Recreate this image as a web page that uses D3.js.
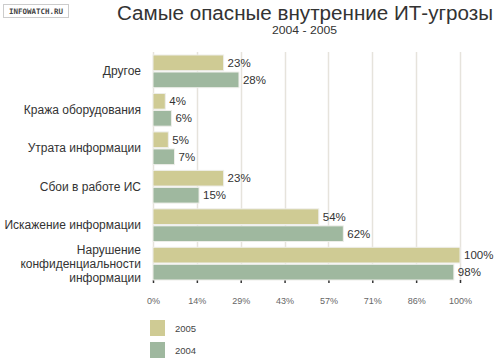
<!DOCTYPE html>
<html>
<head>
<meta charset="utf-8">
<script src="https://cdn.jsdelivr.net/npm/d3@7"></script>
<style>
  body { margin: 0; background: #fff; }
  text { font-family: "Liberation Sans", Arial, sans-serif; }
</style>
</head>
<body>
<script>
// Data
var categories = ["Другое", "Кража оборудования", "Утрата информации", "Сбои в работе ИС",
                  "Искажение информации", "Нарушение\nконфиденциальности\nинформации"];
var series = ["2005", "2004"];
var values2005 = [23, 4, 5, 23, 54, 100];
var values2004 = [28, 6, 7, 15, 62, 98];
var tickValues = [0, 100/7, 200/7, 300/7, 400/7, 500/7, 600/7, 100];
var colors = ["#cfcb94", "#9fb89f"];

var svg = d3.select("body")
  .append("svg")
  .attr("width", 500)
  .attr("height", 361);

// logo box
svg.append("rect")
  .attr("x", 3.5).attr("y", 4.5)
  .attr("width", 65).attr("height", 13)
  .attr("fill", "#fff").attr("stroke", "#ccc");
svg.append("text")
  .attr("x", 36).attr("y", 14)
  .attr("text-anchor", "middle")
  .attr("font-size", 7.5).attr("font-weight", "bold")
  .style("font-family", "'DejaVu Sans Mono', monospace")
  .attr("fill", "#444")
  .text("INFOWATCH.RU");

// title
svg.append("text")
  .attr("x", 117).attr("y", 20)
  .attr("font-size", 20)
  .attr("textLength", 376).attr("lengthAdjust", "spacingAndGlyphs")
  .attr("fill", "#333")
  .text("Самые опасные внутренние ИТ-угрозы");
svg.append("text")
  .attr("x", 272).attr("y", 34)
  .attr("font-size", 10)
  .attr("textLength", 65).attr("lengthAdjust", "spacingAndGlyphs")
  .attr("fill", "#333")
  .text("2004 - 2005");

var x = d3.scaleLinear().domain([0, 100]).range([153, 460]);
var y = d3.scaleBand().domain(categories).range([55, 280]).paddingInner(0.15);
var ySub = d3.scaleBand().domain(series).range([0, y.bandwidth()]).paddingInner(0.08);

// gridlines
svg.selectAll("line.grid")
  .data(tickValues)
  .enter().append("line")
  .attr("class", "grid")
  .attr("x1", function(d){ return Math.round(x(d)) + 0.5; })
  .attr("x2", function(d){ return Math.round(x(d)) + 0.5; })
  .attr("y1", 52).attr("y2", 281)
  .attr("stroke", "#e6e3dc").attr("stroke-width", 1.5);

// tick dots + labels
var xAxis = svg.append("g").attr("transform", "translate(0,280)")
  .call(d3.axisBottom(x).tickValues(tickValues).tickSize(3)
    .tickFormat(function(d){ return Math.round(d) + "%"; }));
xAxis.select(".domain").remove();
xAxis.selectAll(".tick line").attr("stroke", "#333").attr("stroke-width", 1.5);
xAxis.selectAll(".tick text")
  .attr("y", 18)
  .attr("font-size", 9)
  .attr("fill", "#666")
  .style("font-family", "'Liberation Sans', Arial, sans-serif");

var rows = categories.map(function(c, i){
  return { cat: c, vals: [values2005[i], values2004[i]] };
});

var groups = svg.selectAll("g.row")
  .data(rows)
  .enter().append("g")
  .attr("class", "row")
  .attr("transform", function(d){ return "translate(0," + y(d.cat) + ")"; });

groups.selectAll("rect")
  .data(function(d){ return d.vals.map(function(v, j){ return { s: series[j], v: v, j: j }; }); })
  .enter().append("rect")
  .attr("x", x(0))
  .attr("y", function(d){ return ySub(d.s); })
  .attr("width", function(d){ return x(d.v) - x(0); })
  .attr("height", ySub.bandwidth())
  .attr("fill", function(d){ return colors[d.j]; })
  .attr("stroke", "#eeeeea").attr("stroke-width", 1);

groups.selectAll("text.val")
  .data(function(d){ return d.vals.map(function(v, j){ return { s: series[j], v: v }; }); })
  .enter().append("text")
  .attr("class", "val")
  .attr("x", function(d){ return x(d.v) + 4; })
  .attr("y", function(d){ return ySub(d.s) + ySub.bandwidth() / 2 + 4; })
  .attr("font-size", 11.5)
  .attr("fill", "#333")
  .text(function(d){ return d.v + "%"; });

// category labels
groups.append("text")
  .attr("text-anchor", "end")
  .attr("font-size", 12)
  .attr("fill", "#333")
  .each(function(d){
    var lines = d.cat.split("\n");
    var t = d3.select(this);
    var mid = y.bandwidth() / 2 + 4;
    lines.forEach(function(l, k){
      t.append("tspan")
        .attr("x", 141)
        .attr("y", mid + (k - (lines.length - 1) / 2) * 14)
        .text(l);
    });
  });

// legend
var legend = svg.selectAll("g.legend")
  .data(series)
  .enter().append("g")
  .attr("class", "legend")
  .attr("transform", function(d, i){ return "translate(150," + (320 + i * 22) + ")"; });
legend.append("rect")
  .attr("width", 15).attr("height", 16)
  .attr("fill", function(d, i){ return colors[i]; });
legend.append("text")
  .attr("x", 25).attr("y", 12)
  .attr("font-size", 9.5)
  .attr("fill", "#444")
  .text(function(d){ return d; });
</script>
</body>
</html>
